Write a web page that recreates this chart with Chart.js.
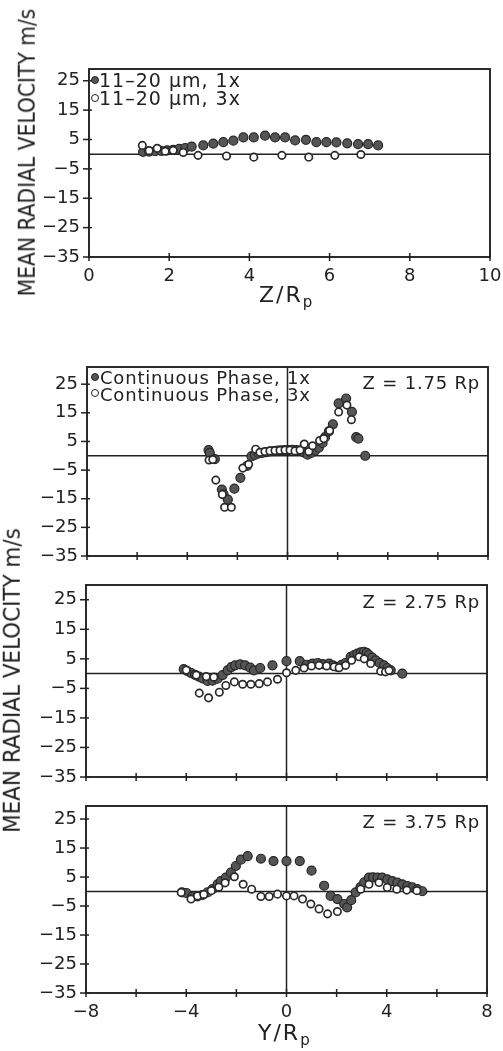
<!DOCTYPE html>
<html>
<head>
<meta charset="utf-8">
<script src="https://cdn.jsdelivr.net/npm/chart.js@4.4.0/dist/chart.umd.min.js"></script>
<style>
  body { margin: 0; background: #fff; }
  #wrap { position: relative; width: 503px; height: 1051px; overflow: hidden; font-family: "DejaVu Sans", sans-serif; color: #222; }
  canvas { position: absolute; left: 0; }
  .lbl { position: absolute; white-space: nowrap; line-height: 1; }
  .dot { position: absolute; width: 6px; height: 6px; border-radius: 50%; border: 1.4px solid #222; transform: translate(-50%, -50%); }
  .ytitle { position: absolute; white-space: nowrap; line-height: 1; font-size: 23px; }
  sub { font-size: 15px; vertical-align: -5px; line-height: 1; }
</style>
</head>
<body>
<div id="wrap">
  <canvas id="cTop" width="503" height="240" style="top:59px"></canvas>
  <canvas id="c1" width="503" height="211" style="top:357px"></canvas>
  <canvas id="c2" width="503" height="214" style="top:575px"></canvas>
  <canvas id="c3" width="503" height="237" style="top:796px"></canvas>

  <div class="ytitle" id="yt1">MEAN RADIAL VELOCITY m/s</div>
  <div class="ytitle" id="yt2">MEAN RADIAL VELOCITY m/s</div>

  <div class="dot" style="left:95px;top:80px;background:#555"></div>
  <div class="lbl" style="left:99px;top:71px;font-size:19px;letter-spacing:1px">11–20 μm, 1x</div>
  <div class="dot" style="left:95px;top:98px;background:#fff"></div>
  <div class="lbl" style="left:99px;top:89px;font-size:19px;letter-spacing:1px">11–20 μm, 3x</div>
  <div class="lbl" style="left:259px;top:284px;font-size:22px;letter-spacing:2px">Z/R<sub>p</sub></div>

  <div class="dot" style="left:95px;top:377px;background:#555"></div>
  <div class="lbl" style="left:100px;top:369px;font-size:18px;letter-spacing:0.8px">Continuous Phase, 1x</div>
  <div class="dot" style="left:95px;top:393px;background:#fff"></div>
  <div class="lbl" style="left:100px;top:386px;font-size:18px;letter-spacing:0.8px">Continuous Phase, 3x</div>

  <div class="lbl" style="right:23px;top:374px;font-size:18px;letter-spacing:0.8px">Z = 1.75 Rp</div>
  <div class="lbl" style="right:23px;top:593px;font-size:18px;letter-spacing:0.8px">Z = 2.75 Rp</div>
  <div class="lbl" style="right:23px;top:813px;font-size:18px;letter-spacing:0.8px">Z = 3.75 Rp</div>
  <div class="lbl" style="left:258px;top:1022px;font-size:22px;letter-spacing:2px">Y/R<sub>p</sub></div>
</div>
<script>
// tick values
const velTicks = [25, 15, 5, -5, -15, -25, -35];
const zTicks = [0, 2, 4, 6, 8, 10];
const yrTicks = [-8, -6, -4, -2, 0, 2, 4, 6, 8];
const yrLabels = [-8, -4, 0, 4, 8];

// top chart: velocity vs Z/Rp, 11-20 um droplets
const zFill = [[1.35,0.8],[1.5,0.9],[1.65,1.0],[1.8,1.1],[1.95,1.3],[2.1,1.5],[2.25,1.8],[2.4,2.1],[2.56,2.6],[2.85,3.0],[3.1,3.6],[3.35,4.1],[3.6,4.6],[3.85,5.7],[4.11,5.7],[4.39,6.3],[4.64,5.7],[4.89,5.7],[5.14,4.7],[5.41,4.9],[5.67,4.1],[5.92,4.1],[6.17,4.0],[6.44,3.7],[6.71,3.4],[6.96,3.4],[7.21,3.0]];
const zOpen = [[1.33,3.0],[1.5,1.2],[1.7,2.0],[1.9,1.0],[2.1,1.3],[2.35,0.6],[2.72,-0.4],[3.43,-0.6],[4.11,-1.0],[4.81,-0.4],[5.48,-1.0],[6.13,-0.4],[6.78,-0.1]];

// Z = 1.75 Rp
const p1Fill = [[-3.15,2.0],[-3.1,1.0],[-2.9,-1.2],[-2.62,-11.8],[-2.55,-13.5],[-2.38,-15.3],[-2.12,-11.5],[-1.88,-7.7],[-1.61,-3.5],[-1.44,-0.2],[-1.3,0.3],[-1.15,0.8],[-1.0,1.0],[-0.85,1.3],[-0.7,1.5],[-0.55,1.6],[-0.4,1.8],[-0.25,1.9],[-0.1,2.0],[0.05,2.0],[0.2,2.1],[0.35,2.0],[0.5,1.8],[0.65,1.2],[0.8,0.4],[0.95,1.0],[1.1,1.8],[1.25,2.8],[1.4,4.5],[1.5,6.5],[1.65,8.5],[1.81,11],[2.04,18.3],[2.34,20],[2.57,15.3],[2.74,6.5],[2.83,6.0],[3.1,0]];
const p1Open = [[-3.13,-1.5],[-2.98,-1.3],[-2.86,-8.5],[-2.6,-13.5],[-2.51,-18],[-2.24,-18],[-1.78,-4.3],[-1.55,-3.0],[-1.27,2.3],[-1.1,1.2],[-0.9,1.5],[-0.7,1.7],[-0.5,1.8],[-0.3,1.9],[-0.1,2.0],[0.1,2.0],[0.3,1.7],[0.5,2.0],[0.67,4.1],[0.85,1.5],[1.0,3.5],[1.28,5.3],[1.45,6.0],[1.68,8.8],[2.04,15.3],[2.37,17.7],[2.55,12.6]];

// Z = 2.75 Rp
const p2Fill = [[-4.1,1.5],[-3.95,0.8],[-3.8,0.2],[-3.65,-0.4],[-3.5,-1.0],[-3.35,-1.6],[-3.15,-2.5],[-2.95,-2.4],[-2.75,-1.7],[-2.55,-0.5],[-2.35,1.1],[-2.2,2.2],[-2.05,2.8],[-1.85,3.1],[-1.65,2.8],[-1.45,2.0],[-1.3,1.1],[-1.05,1.9],[-0.56,2.8],[0,4.2],[0.53,4.2],[0.8,3.0],[1.04,3.4],[1.25,3.6],[1.45,3.2],[1.7,3.4],[1.85,2.8],[2.03,2.3],[2.2,3.0],[2.35,3.6],[2.56,5.7],[2.7,6.3],[2.83,6.8],[2.96,7.2],[3.09,7.4],[3.2,7.0],[3.29,6.3],[3.42,5.4],[3.56,4.5],[3.72,3.6],[3.89,2.8],[4.02,1.9],[4.16,1.1],[4.62,0]];
const p2Open = [[-4.0,1.2],[-3.6,-0.5],[-3.48,-6.6],[-3.2,-1.0],[-3.11,-8.2],[-2.9,-1.2],[-2.68,-6.3],[-2.42,-4.0],[-2.08,-2.8],[-1.75,-3.6],[-1.42,-3.6],[-1.09,-3.4],[-0.76,-2.8],[-0.36,-1.9],[0,0.3],[0.37,1.1],[0.7,1.9],[1.0,2.6],[1.3,2.8],[1.6,2.6],[1.9,2.3],[2.1,2.0],[2.36,2.8],[2.6,4.5],[2.9,5.7],[3.1,5.0],[3.36,3.4],[3.76,0.8],[3.95,0.6],[4.09,1.1]];

// Z = 3.75 Rp
const p3Fill = [[-4.17,-0.3],[-4.0,-0.5],[-3.75,-1.7],[-3.55,-1.7],[-3.35,-1.2],[-3.15,-0.3],[-2.95,0.8],[-2.75,2.5],[-2.62,3.6],[-2.42,4.8],[-2.22,6.5],[-2.02,8.8],[-1.82,11],[-1.55,12.2],[-1.02,11.3],[-0.52,10.5],[0,10.5],[0.53,10.5],[1.0,7.2],[1.5,2.0],[1.76,-1.5],[2.03,-2.6],[2.3,-4.3],[2.42,-5.5],[2.58,-3.0],[2.76,-0.3],[2.95,1.5],[3.1,3.2],[3.29,4.8],[3.45,4.9],[3.63,4.8],[3.82,4.8],[4.02,4.2],[4.22,3.6],[4.42,3.1],[4.62,2.5],[4.82,1.9],[5.02,1.4],[5.22,0.8],[5.42,0.1]];
const p3Open = [[-4.2,-0.3],[-3.81,-2.6],[-3.55,-1.5],[-3.3,-1.0],[-3.0,0.3],[-2.7,1.5],[-2.45,3.0],[-2.08,5.1],[-1.73,2.5],[-1.39,0.8],[-1.02,-1.7],[-0.69,-1.7],[-0.36,-0.9],[0,-1.5],[0.3,-1.5],[0.64,-2.6],[0.97,-4.3],[1.3,-6.0],[1.64,-7.7],[2.03,-6.9],[2.96,0.8],[3.29,2.5],[3.69,3.1],[4.02,1.4],[4.4,0.8],[4.8,0.5],[5.2,0.3]];

const INK = "#222";
const tickFont = { family: "DejaVu Sans", size: 18 };
const minus = v => String(v).replace("-", "\u2212");

// box, zero lines and crossing tick marks
const frame = {
  id: "frame",
  beforeDatasetsDraw(chart, args, opts) {
    const { ctx, chartArea: a, scales: { x, y } } = chart;
    const line = (x1, y1, x2, y2) => { ctx.beginPath(); ctx.moveTo(x1, y1); ctx.lineTo(x2, y2); ctx.stroke(); };
    ctx.save();
    ctx.strokeStyle = INK;
    ctx.lineWidth = 1.9;
    ctx.strokeRect(a.left, a.top, a.right - a.left, a.bottom - a.top);
    ctx.lineWidth = 1.5;
    const y0 = y.getPixelForValue(0);
    line(a.left, y0, a.right, y0);
    if (opts.vzero) {
      const x0 = x.getPixelForValue(0);
      line(x0, a.top, x0, a.bottom);
    }
    x.ticks.forEach(t => {
      const px = x.getPixelForValue(t.value);
      line(px, a.bottom - 4, px, a.bottom + 4);
    });
    y.ticks.forEach(t => {
      const py = y.getPixelForValue(t.value);
      line(a.left - 6, py, a.left + 3, py);
    });
    ctx.restore();
  }
};

function fixFit(w, h) {
  return s => {
    if (w !== undefined) s.width = w;
    if (h !== undefined) s.height = h;
    s.paddingLeft = 0; s.paddingRight = 0; s.paddingTop = 0; s.paddingBottom = 0;
  };
}

function makeChart(id, c) {
  new Chart(document.getElementById(id), {
    type: "scatter",
    data: {
      datasets: [
        {
          label: "3x",
          data: c.open.map(([x, y]) => ({ x, y })),
          pointRadius: 3.7,
          pointBackgroundColor: "#fff",
          pointBorderColor: "#2a2a2a",
          pointBorderWidth: 1.7
        },
        {
          label: "1x",
          data: c.fill.map(([x, y]) => ({ x, y })),
          pointRadius: 4.5,
          pointBackgroundColor: "#555",
          pointBorderColor: "#262626",
          pointBorderWidth: 1.2
        }
      ]
    },
    options: {
      responsive: false,
      animation: false,
      events: [],
      layout: { padding: { top: 10, right: 503 - c.right, left: 0, bottom: 0 } },
      plugins: { legend: { display: false }, tooltip: { enabled: false }, frame: { vzero: c.vzero } },
      scales: {
        x: {
          type: "linear",
          min: c.xMin, max: c.xMax,
          grid: { display: false, drawTicks: false },
          border: { display: false },
          ticks: { font: tickFont, color: INK, padding: 9, maxRotation: 0, autoSkip: false, callback: c.xLabel },
          afterBuildTicks: s => { s.ticks = c.xTicks.map(v => ({ value: v })); },
          afterFit: fixFit(undefined, c.xh)
        },
        y: {
          type: "linear",
          min: -35, max: c.yMax,
          grid: { display: false, drawTicks: false },
          border: { display: false },
          ticks: { font: tickFont, color: INK, padding: 9, autoSkip: false, callback: v => minus(v) },
          afterBuildTicks: s => { s.ticks = velTicks.map(v => ({ value: v })); },
          afterFit: fixFit(c.left)
        }
      }
    },
    plugins: [frame]
  });
}

makeChart("cTop", { open: zOpen, fill: zFill, xMin: 0, xMax: 10, yMax: 29, xTicks: zTicks,
  xLabel: v => minus(v), left: 89, right: 490, xh: 42, vzero: false });
const noLabel = () => "";
const yrLabel = v => (yrLabels.includes(v) ? minus(v) : "");
makeChart("c1", { open: p1Open, fill: p1Fill, xMin: -8, xMax: 8, yMax: 31, xTicks: yrTicks,
  xLabel: noLabel, left: 87, right: 488, xh: 12, vzero: true });
makeChart("c2", { open: p2Open, fill: p2Fill, xMin: -8, xMax: 8, yMax: 30, xTicks: yrTicks,
  xLabel: noLabel, left: 86, right: 487, xh: 12, vzero: true });
makeChart("c3", { open: p3Open, fill: p3Fill, xMin: -8, xMax: 8, yMax: 29.5, xTicks: yrTicks,
  xLabel: yrLabel, left: 86, right: 487, xh: 40, vzero: true });

// rotated axis titles, squeezed along the text direction
function placeTitle(id, cx, cy, len) {
  const el = document.getElementById(id);
  const k = len / el.offsetWidth;
  el.style.left = (cx - el.offsetWidth / 2) + "px";
  el.style.top = (cy - el.offsetHeight / 2) + "px";
  el.style.transform = "rotate(-90deg) scaleX(" + k.toFixed(3) + ")";
}
placeTitle("yt1", 27, 152, 288);
placeTitle("yt2", 12, 680, 305);
</script>
</body>
</html>
